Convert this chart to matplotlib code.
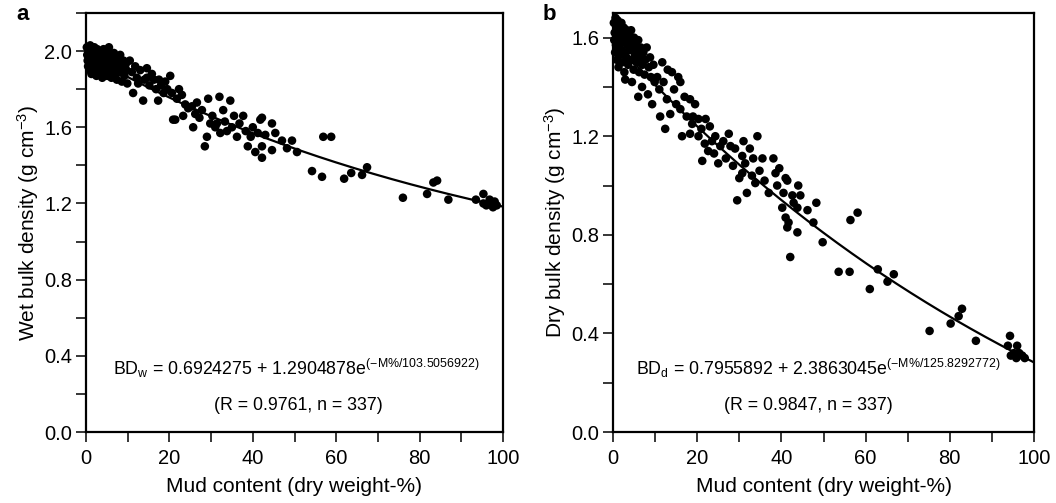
import numpy as np
import matplotlib
matplotlib.use("Agg")
import matplotlib.pyplot as plt
from matplotlib.ticker import MultipleLocator, FormatStrFormatter

plt.rcParams['font.family'] = ['Liberation Sans', 'DejaVu Sans']
plt.rcParams['mathtext.fontset'] = 'custom'
plt.rcParams['mathtext.rm'] = 'Liberation Sans'
plt.rcParams['mathtext.it'] = 'Liberation Sans:italic'
plt.rcParams['mathtext.bf'] = 'Liberation Sans:bold'

# ---------------- data: panel a (wet bulk density) ----------------
mud_a = [0.2, 0.3, 0.4, 0.5, 0.6, 0.8, 0.9, 1.0, 1.1, 1.2, 1.3, 1.5, 1.6, 1.7, 1.9, 2.0, 2.1, 2.3, 2.4, 2.5,
         2.7, 2.8, 3.0, 3.1, 3.3, 3.4, 3.6, 3.7, 3.9, 4.0, 4.2, 4.3, 4.5, 4.6, 4.8, 5.0, 5.1, 5.3, 5.5, 5.6,
         5.8, 6.0, 6.1, 6.3, 6.5, 6.7, 6.9, 7.0, 7.2, 7.4, 7.6, 7.8, 8.0, 8.2, 8.4, 8.6, 8.8, 9.0, 9.2, 9.5,
         9.7, 9.9,
         10.5, 11.0, 11.3, 11.8, 12.2, 12.5, 13.0, 13.7, 14.0, 14.6, 14.6, 15.2, 15.8, 16.3, 16.8, 17.3, 17.5, 18.0,
         18.6, 19.0, 19.5, 20.2, 20.6, 20.9, 21.4, 21.8, 22.3, 23.0, 23.3, 23.8, 24.5, 25.4, 25.7, 26.2, 26.6, 27.2,
         27.8, 28.5, 29.0, 29.3, 29.8, 30.3, 31.0, 31.4, 32.0, 32.2, 32.9, 33.3, 33.8, 34.6, 35.0, 35.5, 36.2, 36.8,
         37.7, 38.3, 38.8, 39.5, 40.0, 40.6, 41.2, 41.8, 42.2, 42.2, 42.2, 43.0, 44.6, 44.6, 45.4, 47.0, 48.2, 49.4,
         50.6, 54.2, 56.6, 56.9, 58.8, 61.9, 63.6, 66.2, 67.4, 76.0, 81.8, 83.3, 84.2, 86.9, 93.5, 95.3, 95.3, 96.0,
         96.8, 97.2, 97.6, 98.0, 98.5]
bd_a = [2.02, 1.98, 1.95, 1.92, 2.00, 1.97, 1.90, 2.03, 1.94, 1.99, 1.88, 2.01, 1.96, 1.92, 1.98, 2.02, 1.90, 1.95, 1.99, 1.87,
        2.01, 1.93, 1.97, 1.89, 2.00, 1.94, 1.91, 1.98, 1.86, 1.96, 2.01, 1.93, 1.89, 1.97, 1.99, 1.92, 1.87, 1.95, 2.02, 1.90,
        1.98, 1.94, 1.86, 1.96, 1.91, 1.99, 1.88, 1.94, 1.97, 1.85, 1.92, 1.96, 1.89, 1.98, 1.93, 1.84, 1.91, 1.95, 1.87, 1.93,
        1.90, 1.83,
        1.95, 1.89, 1.78, 1.92, 1.86, 1.83, 1.90, 1.74, 1.85, 1.91, 1.86, 1.82, 1.88, 1.85, 1.80, 1.74, 1.85, 1.82,
        1.78, 1.84, 1.80, 1.87, 1.78, 1.64, 1.64, 1.75, 1.80, 1.77, 1.66, 1.72, 1.70, 1.71, 1.60, 1.67, 1.73, 1.65,
        1.69, 1.50, 1.55, 1.75, 1.62, 1.66, 1.60, 1.62, 1.76, 1.57, 1.69, 1.63, 1.58, 1.74, 1.60, 1.66, 1.55, 1.62,
        1.66, 1.58, 1.50, 1.55, 1.60, 1.47, 1.57, 1.64, 1.65, 1.50, 1.44, 1.56, 1.62, 1.48, 1.57, 1.53, 1.49, 1.53,
        1.47, 1.37, 1.34, 1.55, 1.55, 1.33, 1.36, 1.35, 1.39, 1.23, 1.25, 1.31, 1.32, 1.22, 1.22, 1.25, 1.20, 1.19,
        1.22, 1.20, 1.18, 1.21, 1.19]

# ---------------- data: panel b (dry bulk density) ----------------
mud_b = [0.2, 0.3, 0.4, 0.5, 0.6, 0.7, 0.8, 0.9, 1.0, 1.1, 1.2, 1.3, 1.4, 1.5, 1.6, 1.7, 1.8, 2.0, 2.1, 2.2,
         2.3, 2.5, 2.6, 2.7, 2.9, 3.0, 3.2, 3.3, 3.5, 3.6, 3.8, 4.0, 4.2, 4.3, 4.5, 4.7, 4.9, 5.0, 5.2, 5.4,
         5.6, 5.8, 6.0, 6.2, 6.4, 6.6, 6.9, 7.0, 7.2, 7.5, 7.7, 8.0, 8.3, 8.5, 8.8, 9.0, 9.3, 9.6, 9.9,
         2.9, 4.5, 6.0, 11.7, 14.0, 16.0, 11.2, 12.4, 13.6, 18.3, 16.0, 19.0, 20.3, 16.4, 18.3, 20.3, 23.0, 21.2,
         22.6, 25.0, 24.3, 26.2, 27.9, 31.0, 34.3, 30.7, 31.4, 33.3, 30.7, 35.5, 38.1, 38.6, 33.0, 41.0,
         10.5, 11.0, 12.0, 12.8, 13.0, 14.5, 15.0, 15.5, 17.0, 17.5, 18.8, 19.5, 21.0, 21.8, 22.0, 23.5, 24.0, 25.5,
         26.8, 27.5, 28.5, 29.0, 29.5, 30.0, 31.8, 32.5, 33.8, 34.8, 36.0, 37.0, 39.0, 39.5,
         41.4, 44.0, 40.5, 42.6, 44.5, 42.9, 40.2, 43.8, 46.2, 48.3, 41.0, 41.7, 41.4, 43.8, 47.6, 49.8, 42.1,
         56.4, 58.1, 53.6, 56.2, 61.0, 62.9, 65.2, 66.7, 75.2, 80.2, 82.1, 82.9, 86.2, 94.3, 93.8, 96.0,
         94.5, 95.2, 95.8, 96.5, 97.2, 97.8]
bd_b = [1.66, 1.59, 1.62, 1.54, 1.68, 1.57, 1.64, 1.51, 1.61, 1.67, 1.56, 1.48, 1.63, 1.59, 1.65, 1.53, 1.60, 1.66, 1.55, 1.50,
        1.62, 1.58, 1.64, 1.46, 1.54, 1.60, 1.52, 1.63, 1.57, 1.49, 1.61, 1.55, 1.59, 1.63, 1.51, 1.56, 1.47, 1.60, 1.53, 1.57,
        1.50, 1.54, 1.59, 1.46, 1.52, 1.56, 1.40, 1.49, 1.54, 1.45, 1.51, 1.56, 1.37, 1.48, 1.52, 1.44, 1.33, 1.49, 1.42,
        1.43, 1.42, 1.36, 1.50, 1.46, 1.42, 1.28, 1.23, 1.29, 1.35, 1.31, 1.28, 1.27, 1.20, 1.21, 1.20, 1.24, 1.10,
        1.14, 1.09, 1.20, 1.18, 1.16, 1.18, 1.20, 1.12, 1.09, 1.11, 1.05, 1.11, 1.11, 1.05, 1.04, 1.03,
        1.44, 1.39, 1.42, 1.35, 1.47, 1.39, 1.33, 1.44, 1.36, 1.28, 1.25, 1.33, 1.23, 1.17, 1.27, 1.18, 1.13, 1.16,
        1.11, 1.21, 1.08, 1.15, 0.94, 1.03, 0.97, 1.15, 1.01, 1.06, 1.02, 0.97, 1.00, 1.07,
        1.02, 1.00, 0.97, 0.96, 0.96, 0.93, 0.91, 0.91, 0.90, 0.93, 0.87, 0.85, 0.83, 0.81, 0.85, 0.77, 0.71,
        0.86, 0.89, 0.65, 0.65, 0.58, 0.66, 0.61, 0.64, 0.41, 0.44, 0.47, 0.50, 0.37, 0.39, 0.35, 0.35,
        0.31, 0.32, 0.30, 0.32, 0.31, 0.30]

# fitted models (parameters of the regression curves)
fit_a = (0.6924275, 1.2904878, 103.5056922)
fit_b = (-0.7955892, 2.3863045, 125.8292772)
eq_a = r"BD$_{\mathrm{w}}$ = 0.6924275 + 1.2904878e$^{\mathrm{(-M\%/103.5056922)}}$"
eq_b = r"BD$_{\mathrm{d}}$ = 0.7955892 + 2.3863045e$^{\mathrm{(-M\%/125.8292772)}}$"
stat_a = "(R = 0.9761, n = 337)"
stat_b = "(R = 0.9847, n = 337)"

fig = plt.figure(figsize=(10.56, 5.03), dpi=100)
W, H = 1056, 503

def make_ax(l, r, t, b):
    return fig.add_axes([l / W, 1 - b / H, (r - l) / W, (b - t) / H])

ax_a = make_ax(86, 503, 13, 432)
ax_b = make_ax(613, 1034, 13, 432)

m_line = np.linspace(0, 100, 200)

def style(ax, ymax, ylabel):
    ax.set_xlim(0, 100)
    ax.set_ylim(0, ymax)
    ax.xaxis.set_major_locator(MultipleLocator(20))
    ax.xaxis.set_minor_locator(MultipleLocator(10))
    ax.yaxis.set_major_locator(MultipleLocator(0.4))
    ax.yaxis.set_minor_locator(MultipleLocator(0.2))
    ax.yaxis.set_major_formatter(FormatStrFormatter('%.1f'))
    ax.tick_params(which='both', direction='out', length=7, width=1.1, labelsize=14.5)
    ax.tick_params(axis='x', pad=5)
    ax.tick_params(axis='y', pad=3)
    for s in ax.spines.values():
        s.set_linewidth(1.6)
    ax.set_xlabel("Mud content (dry weight-%)", fontsize=15, labelpad=7)
    ax.set_ylabel(ylabel, fontsize=15, labelpad=2)

for ax, mud, bd, fit, eq, st, ymax, ylab, eqx, stx in [
    (ax_a, mud_a, bd_a, fit_a, eq_a, stat_a, 2.2, r"Wet bulk density (g cm$^{-3}$)", 296, 298),
    (ax_b, mud_b, bd_b, fit_b, eq_b, stat_b, 1.7, r"Dry bulk density (g cm$^{-3}$)", 818, 808),
]:
    ax.scatter(mud, bd, s=38, color='black', edgecolors='none', zorder=3, clip_on=False)
    a0, a1, c = fit
    ax.plot(m_line, a0 + a1 * np.exp(-m_line / c), color='black', lw=1.6, zorder=4)
    style(ax, ymax, ylab)
    fig.text(eqx / W, 1 - 368 / H, eq, fontsize=12.8, ha='center', va='center')
    fig.text(stx / W, 1 - 405 / H, st, fontsize=12.8, ha='center', va='center')

fig.text(16 / W, 1 - 14 / H, "a", fontsize=16, fontweight='bold', ha='left', va='center')
fig.text(543 / W, 1 - 14 / H, "b", fontsize=16, fontweight='bold', ha='left', va='center')

fig.savefig("out.png", dpi=100)
